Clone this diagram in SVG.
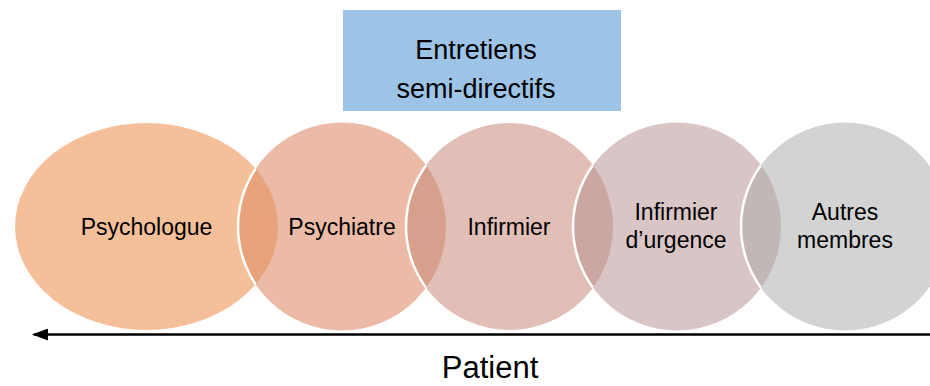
<svg xmlns="http://www.w3.org/2000/svg" width="930" height="386" viewBox="0 0 930 386">
<style>
text{font-family:"Liberation Sans",Arial,sans-serif;fill:#000;text-anchor:middle}
.lbl{font-size:23px}
.box{font-size:27px}
.edge{fill:none;stroke:#fff;stroke-width:2.5}
</style>
<defs>
<clipPath id="c1"><ellipse cx="146.5" cy="226.5" rx="131.5" ry="103.5"/></clipPath>
<clipPath id="c2"><circle cx="342" cy="226.5" r="104"/></clipPath>
<clipPath id="c3"><circle cx="509.5" cy="226.5" r="103.5"/></clipPath>
<clipPath id="c4"><circle cx="677" cy="226.5" r="104"/></clipPath>
<marker id="ah" viewBox="0 0 16 12" refX="14" refY="6" markerWidth="16" markerHeight="12" markerUnits="userSpaceOnUse" orient="auto">
<path d="M16,6 L0,0 L0,12 Z" fill="#000"/>
</marker>
</defs>
<g id="entretiens">
<rect x="343" y="10" width="278" height="101" fill="#9DC3E6"/>
<text class="box" x="476" y="59">Entretiens</text>
<text class="box" x="476" y="98">semi-directifs</text>
</g>
<g id="psychologue">
<ellipse cx="146.5" cy="226.5" rx="131.5" ry="103.5" fill="#F5BF99"/>
</g>
<g id="psychiatre">
<circle cx="342" cy="226.5" r="104" fill="#EBBBA7"/>
</g>
<g id="infirmier">
<circle cx="509.5" cy="226.5" r="103.5" fill="#E2BFB6"/>
</g>
<g id="infirmier-urgence">
<circle cx="677" cy="226.5" r="104" fill="#D9C5C5"/>
</g>
<g id="autres-membres">
<circle cx="845" cy="226.5" r="104" fill="#D3D3D3"/>
</g>
<g id="overlaps">
<circle cx="342" cy="226.5" r="104" fill="#E8A27C" clip-path="url(#c1)"/>
<circle cx="509.5" cy="226.5" r="103.5" fill="#D7A08D" clip-path="url(#c2)"/>
<circle cx="677" cy="226.5" r="104" fill="#CBA7A3" clip-path="url(#c3)"/>
<circle cx="845" cy="226.5" r="104" fill="#C1B7B7" clip-path="url(#c4)"/>
<circle class="edge" cx="342" cy="226.5" r="104" clip-path="url(#c1)"/>
<circle class="edge" cx="509.5" cy="226.5" r="103.5" clip-path="url(#c2)"/>
<circle class="edge" cx="677" cy="226.5" r="104" clip-path="url(#c3)"/>
<circle class="edge" cx="845" cy="226.5" r="104" clip-path="url(#c4)"/>
</g>
<g id="labels">
<text class="lbl" x="146.5" y="235">Psychologue</text>
<text class="lbl" x="342" y="235">Psychiatre</text>
<text class="lbl" x="509" y="235">Infirmier</text>
<text class="lbl" x="676" y="220">Infirmier</text>
<text class="lbl" x="676" y="248">d’urgence</text>
<text class="lbl" x="845" y="220">Autres</text>
<text class="lbl" x="845" y="248">membres</text>
</g>
<g id="connectors">
<line x1="930" y1="334.5" x2="34" y2="334.5" stroke="#000" stroke-width="2.5" marker-end="url(#ah)"/>
</g>
<g id="patient">
<text x="490" y="378" font-size="31px">Patient</text>
</g>
</svg>
